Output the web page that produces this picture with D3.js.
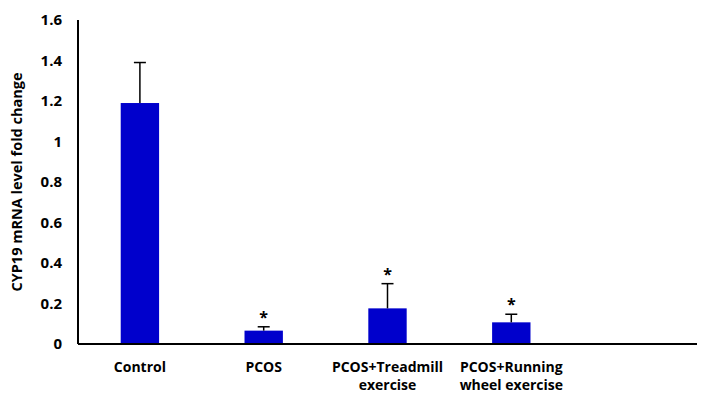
<!DOCTYPE html>
<meta charset="utf-8">
<script src="https://d3js.org/d3.v7.min.js"></script>
<style>
  body { margin: 0; background: #fff; font-family: 'Open Sans', sans-serif; }
</style>
<body>
<div id="chart"></div>
<script>
// data
var groups = ["Control", "PCOS", "PCOS+Treadmill exercise", "PCOS+Running wheel exercise", ""];
var labelLines = [["Control"], ["PCOS"], ["PCOS+Treadmill", "exercise"], ["PCOS+Running", "wheel exercise"], []];
var means = [1.19, 0.066, 0.176, 0.107, null];
var errUp = [1.39, 0.085, 0.298, 0.147, null];
var starred = [false, true, true, true, false];
var yTicks = [0, 0.2, 0.4, 0.6, 0.8, 1, 1.2, 1.4, 1.6];

var W = 711, H = 400;
var margin = {top: 20, left: 78, right: 14, bottom: 56};
var width = W - margin.left - margin.right, height = H - margin.top - margin.bottom;

var svg = d3.select("#chart").append("svg")
    .attr("width", W).attr("height", H)
  .append("g")
    .attr("transform", "translate(" + margin.left + "," + margin.top + ")");

var x = d3.scaleBand().domain(groups).range([0, width]).paddingInner(0.69).paddingOuter(0.345);
var y = d3.scaleLinear().domain([0, 1.6]).range([height, 0]);

// y axis
var yAxis = svg.append("g")
    .call(d3.axisLeft(y).tickValues(yTicks).tickSize(0).tickPadding(16)
      .tickFormat(function(d) { return d === 0 || d === 1 ? d3.format("d")(d) : d3.format(".1f")(d); }));
yAxis.select(".domain").attr("stroke", "#000").attr("stroke-width", 2).attr("d", "M0," + y(1.6) + "V" + y(0));
yAxis.selectAll("text").style("font-size", "15px").style("font-weight", "bold")
    .style("font-family", "'Open Sans', sans-serif").attr("fill", "#000");

svg.append("text")
    .attr("transform", "rotate(-90)")
    .attr("x", -y(0.8)).attr("y", -56)
    .attr("text-anchor", "middle")
    .style("font-size", "14.5px").style("font-weight", "bold")
    .text("CYP19 mRNA level fold change");

// bars
var data = groups.map(function(g, i) { return {g: g, m: means[i], e: errUp[i], s: starred[i], lines: labelLines[i]}; });
var withVal = data.filter(function(d) { return d.m != null; });

svg.selectAll(".bar").data(withVal).enter().append("rect")
    .attr("class", "bar")
    .attr("x", function(d) { return x(d.g); })
    .attr("width", x.bandwidth())
    .attr("y", function(d) { return y(d.m); })
    .attr("height", function(d) { return y(0) - y(d.m); })
    .attr("fill", "#0000cc");

// error bars
var cx = function(d) { return x(d.g) + x.bandwidth() / 2; };
svg.selectAll(".err").data(withVal).enter().append("line")
    .attr("x1", cx).attr("x2", cx)
    .attr("y1", function(d) { return y(d.m); })
    .attr("y2", function(d) { return y(d.e); })
    .attr("stroke", "#000").attr("stroke-width", 1.5);
svg.selectAll(".cap").data(withVal).enter().append("line")
    .attr("x1", function(d) { return cx(d) - 6; }).attr("x2", function(d) { return cx(d) + 6; })
    .attr("y1", function(d) { return y(d.e); })
    .attr("y2", function(d) { return y(d.e); })
    .attr("stroke", "#000").attr("stroke-width", 1.5);

svg.selectAll(".star").data(withVal.filter(function(d) { return d.s; })).enter().append("text")
    .attr("x", cx).attr("y", function(d) { return y(d.e) - 4; })
    .attr("text-anchor", "middle")
    .style("font-size", "16px").style("font-weight", "bold")
    .text("*");

// x axis
svg.append("line")
    .attr("x1", 0).attr("x2", width)
    .attr("y1", y(0)).attr("y2", y(0))
    .attr("stroke", "#000").attr("stroke-width", 2);

var xl = svg.selectAll(".xlab").data(data).enter().append("text")
    .attr("x", cx).attr("y", height + 28)
    .attr("text-anchor", "middle")
    .style("font-size", "14px").style("font-weight", "bold");
xl.selectAll("tspan").data(function(d) { return d.lines; }).enter().append("tspan")
    .attr("x", function() { return cx(d3.select(this.parentNode).datum()); })
    .attr("dy", function(d, i) { return i === 0 ? 0 : 18; })
    .text(function(d) { return d; });
</script>
</body>
